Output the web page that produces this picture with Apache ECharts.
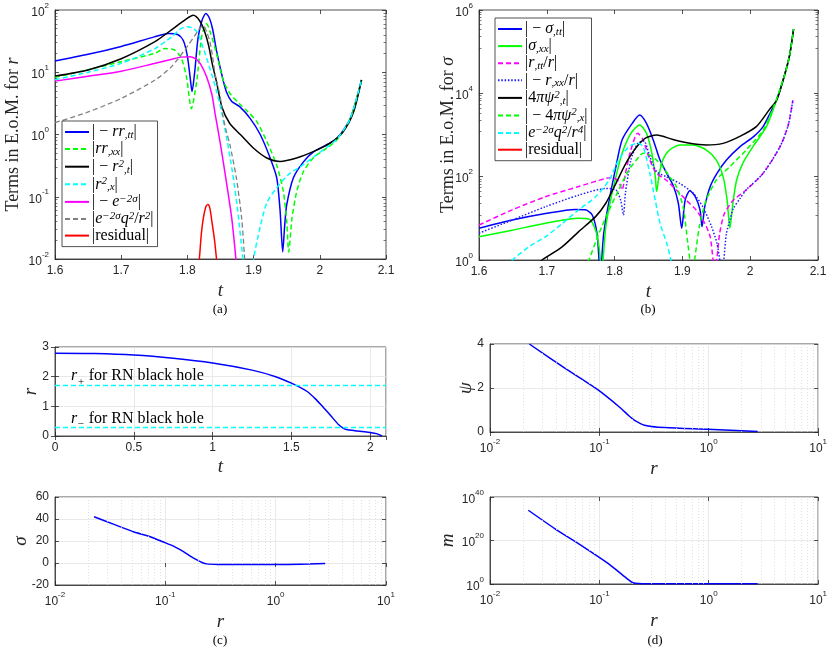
<!DOCTYPE html>
<html><head><meta charset="utf-8">
<script src="https://cdn.jsdelivr.net/npm/echarts@6/dist/echarts.min.js"></script>
<style>html,body{margin:0;padding:0;background:#fff}#c{width:830px;height:652px}</style>
</head><body><div id="c"></div><script>
// ---------- Panel (a): terms in E.o.M. for r (t, |value|) ----------
const a_rrtt = [[1.6,15.2],[1.65,19.4],[1.7,26],[1.75,37],[1.771,42],[1.786,40],[1.794,32],[1.8,18],[1.804,8.5],[1.807,4.9],[1.811,10],[1.816,35],[1.822,68],[1.828,88],[1.833,75],[1.838,50],[1.844,22],[1.852,9.1],[1.859,4.8],[1.867,3.4],[1.879,2.8],[1.895,1.8],[1.91,1.0],[1.925,0.42],[1.935,0.2],[1.94,0.06],[1.944,0.013],[1.947,0.035],[1.95,0.074],[1.96,0.2],[1.975,0.36],[1.99,0.52],[2.01,0.68],[2.026,0.87],[2.046,1.8],[2.063,7.5]];
const a_rrxx = [[1.6,8.3],[1.65,11],[1.7,14.8],[1.75,20],[1.766,24],[1.78,23],[1.791,16.7],[1.799,7.9],[1.806,2.6],[1.814,7.1],[1.822,40],[1.829,60],[1.834,46],[1.844,20],[1.854,7.5],[1.864,4.6],[1.879,3.1],[1.89,2.4],[1.905,1.6],[1.92,0.77],[1.935,0.32],[1.945,0.12],[1.95,0.04],[1.953,0.013],[1.958,0.045],[1.965,0.12],[1.975,0.25],[1.99,0.42],[2.01,0.6],[2.026,0.82],[2.046,1.8],[2.063,7.5]];
const a_rt2 = [[1.6,8.7],[1.65,10.9],[1.7,16.5],[1.751,31],[1.776,48],[1.796,69],[1.809,82],[1.819,66],[1.826,45],[1.832,27],[1.838,13],[1.844,7],[1.852,2.8],[1.864,1.5],[1.88,1.0],[1.9,0.6],[1.92,0.42],[1.94,0.37],[1.965,0.42],[1.99,0.53],[2.015,0.72],[2.035,1.1],[2.051,2.3],[2.063,7.5]];
const a_rx2 = [[1.6,7.6],[1.65,10],[1.7,13.9],[1.751,24],[1.776,37],[1.79,50],[1.8,54],[1.81,50],[1.817,40],[1.822,28],[1.829,17],[1.837,9],[1.844,5],[1.852,2.2],[1.86,0.8],[1.868,0.25],[1.876,0.06],[1.883,0.012],[1.886,0.005],[1.893,0.002],[1.9,0.01],[1.91,0.033],[1.92,0.08],[1.935,0.14],[1.955,0.24],[1.97,0.3],[1.99,0.43],[2.01,0.62],[2.026,0.85],[2.046,1.8],[2.063,7.5]];
const a_e2s = [[1.6,7.2],[1.65,8.6],[1.7,10.4],[1.75,13.8],[1.775,16],[1.79,17.5],[1.804,17.8],[1.812,16.5],[1.819,14],[1.829,8.5],[1.837,4.4],[1.842,2.1],[1.849,0.8],[1.859,0.17],[1.867,0.045],[1.872,0.014],[1.875,0.006]];
const a_q2r2 = [[1.6,1.55],[1.65,2.3],[1.7,3.8],[1.751,7.5],[1.776,12.3],[1.801,27],[1.812,40],[1.818,50],[1.824,56],[1.829,45],[1.834,31],[1.838,18],[1.842,9.1],[1.849,4.4],[1.854,1.9],[1.859,1.1],[1.864,0.7],[1.874,0.2],[1.882,0.045],[1.886,0.012],[1.889,0.004]];
const a_resid = [[1.815,0.006],[1.818,0.01],[1.821,0.025],[1.824,0.045],[1.828,0.07],[1.831,0.075],[1.834,0.065],[1.837,0.04],[1.841,0.02],[1.844,0.01],[1.847,0.005]];
// ---------- Panel (b): terms in E.o.M. for sigma ----------
const b_stt = [[1.6,5.8],[1.649,9.1],[1.698,13],[1.742,16.4],[1.757,16],[1.767,12],[1.774,4.4],[1.777,1.0],[1.779,0.3],[1.781,1.0],[1.784,4.4],[1.792,27],[1.802,174],[1.811,760],[1.826,1900],[1.837,3000],[1.847,1900],[1.857,760],[1.867,250],[1.877,120],[1.887,58],[1.894,23],[1.899,5.8],[1.904,27],[1.911,46],[1.919,33],[1.926,16],[1.929,6.3],[1.933,19],[1.941,58],[1.951,120],[1.965,250],[1.985,525],[2.005,912],[2.019,1585],[2.03,3500],[2.039,6900],[2.05,25000],[2.058,80000],[2.064,350000]];
const b_sxx = [[1.6,3.6],[1.649,5.2],[1.698,7.6],[1.747,10],[1.762,9.6],[1.772,5.2],[1.777,2.1],[1.779,1.0],[1.781,0.4],[1.783,1.0],[1.787,6.3],[1.794,27],[1.802,100],[1.811,363],[1.824,1100],[1.837,1740],[1.847,1100],[1.855,363],[1.86,100],[1.862,44],[1.866,120],[1.871,250],[1.881,437],[1.896,575],[1.916,575],[1.935,437],[1.95,250],[1.96,100],[1.966,27],[1.97,5.8],[1.975,27],[1.98,83],[1.989,209],[2.004,525],[2.024,1585],[2.038,6300],[2.05,25000],[2.058,80000],[2.064,350000]];
const b_rtt = [[1.6,6.9],[1.649,16],[1.698,33],[1.747,58],[1.787,91],[1.797,95],[1.806,76],[1.811,48],[1.816,120],[1.824,437],[1.834,1100],[1.842,760],[1.852,250],[1.862,120],[1.876,83],[1.891,48],[1.906,27],[1.92,16],[1.933,7.6],[1.941,3.6],[1.945,1.1],[1.948,0.5],[1.951,1.1],[1.955,4.4],[1.962,13],[1.975,27],[1.994,48],[2.019,120],[2.044,525],[2.056,1700],[2.063,6900]];
const b_rxx = [[1.6,4.4],[1.649,9.1],[1.698,19],[1.747,36],[1.787,52],[1.802,48],[1.809,27],[1.813,12],[1.816,40],[1.824,250],[1.834,630],[1.843,720],[1.852,300],[1.862,132],[1.876,100],[1.896,69],[1.916,40],[1.93,19],[1.943,6.3],[1.951,2.5],[1.956,0.8],[1.958,0.4],[1.961,1.0],[1.965,4.4],[1.97,9],[1.975,17],[1.985,30],[1.994,48],[2.019,120],[2.044,525],[2.056,1700],[2.063,6900]];
const b_psit = [[1.685,0.8],[1.693,1.0],[1.723,2.1],[1.747,4.8],[1.772,11],[1.787,23],[1.802,69],[1.816,200],[1.831,480],[1.846,850],[1.862,1000],[1.886,780],[1.911,630],[1.935,575],[1.96,630],[1.984,912],[2.009,1585],[2.028,4000],[2.039,6900],[2.05,25000],[2.058,80000],[2.064,350000]];
const b_psix = [[1.755,0.6],[1.762,1.0],[1.777,4.4],[1.792,16],[1.806,48],[1.821,145],[1.836,300],[1.842,363],[1.852,330],[1.862,250],[1.871,174],[1.881,100],[1.891,58],[1.901,19],[1.908,2.5],[1.911,1.0],[1.914,0.4],[1.918,1.0],[1.925,6.3],[1.935,27],[1.95,83],[1.97,174],[1.994,437],[2.019,1300],[2.035,5000],[2.05,25000],[2.058,80000],[2.064,350000]];
const b_q2r4 = [[1.64,0.7],[1.649,1.0],[1.674,2.1],[1.698,3.6],[1.723,7.6],[1.747,16],[1.772,33],[1.792,83],[1.806,250],[1.821,525],[1.834,630],[1.842,525],[1.852,120],[1.86,27],[1.867,7.6],[1.877,2.5],[1.883,1.0],[1.886,0.5]];
const b_resid = [];
// ---------- Panel (c): r(t) and sigma(r) ----------
const c_rt = [[0,2.79],[0.25,2.78],[0.5,2.73],[0.75,2.62],[1.0,2.46],[1.25,2.22],[1.4,2.0],[1.5,1.78],[1.6,1.5],[1.66,1.21],[1.7,0.98],[1.75,0.68],[1.8,0.38],[1.83,0.26],[1.85,0.22],[1.9,0.18],[1.95,0.15],[2.0,0.12],[2.04,0.08],[2.074,0.0]];
const rPlus = 1.71, rMinus = 0.29;
const c_sigma = [[0.0226,42],[0.0338,35.3],[0.0514,28.4],[0.0729,23.9],[0.0995,18.5],[0.123,14.5],[0.146,10.4],[0.17,6],[0.193,2.9],[0.215,0.5],[0.238,-0.8],[0.3,-1.3],[0.415,-1.4],[0.7,-1.4],[1.18,-1.4],[2.0,-1.0],[2.81,-0.5]];
// ---------- Panel (d): psi(r) and m(r) ----------
const d_psi = [[0.0229,4.0],[0.0483,2.9],[0.0973,1.91],[0.158,1.07],[0.185,0.75],[0.21,0.53],[0.259,0.31],[0.394,0.2],[0.98,0.12],[2.8,0.02]];
const d_m = [[0.0224,8e33],[0.039,3.2e25],[0.0686,5e17],[0.12,3.2e9],[0.17,2500],[0.203,4],[0.278,1.4],[1.0,1.3],[2.8,1.2]];
const minorR = [0.02,0.03,0.04,0.05,0.06,0.07,0.08,0.09,0.2,0.3,0.4,0.5,0.6,0.7,0.8,0.9,2,3,4,5,6,7,8,9];

const SANS = '"Liberation Sans", Arial, Helvetica, sans-serif';
const SERIF = '"Liberation Serif","DejaVu Serif","Times New Roman",serif';
const AX = '#262626';

function richSet(fs, color, lh) {
  const sf = Math.round(fs * 0.68);
  const L = lh || fs + 6;
  return {
    n: {fontFamily: SERIF, fontSize: fs, lineHeight: L, color: color},
    i: {fontFamily: SERIF, fontSize: fs, fontStyle: 'italic', lineHeight: L, color: color},
    s: {fontFamily: SERIF, fontSize: sf, fontStyle: 'italic', lineHeight: sf + 2, verticalAlign: 'bottom', color: color},
    p: {fontFamily: SERIF, fontSize: sf, fontStyle: 'italic', lineHeight: sf + 2, verticalAlign: 'top', color: color}
  };
}
const LAB = {
  a1: '{n||}{n| − }{i|rr}{s|,tt}{n||}',
  a2: '{n||}{i|rr}{s|,xx}{n||}',
  a3: '{n||}{n| − }{i|r}{p|2}{s|,t}{n||}',
  a4: '{n||}{i|r}{p|2}{s|,x}{n||}',
  a5: '{n||}{n| − }{i|e}{p|−2σ}{n||}',
  a6: '{n||}{i|e}{p|−2σ}{i|q}{p|2}{n|/}{i|r}{p|2}{n||}',
  a7: '{n||residual|}',
  b1: '{n||}{n| − }{i|σ}{s|,tt}{n||}',
  b2: '{n||}{i|σ}{s|,xx}{n||}',
  b3: '{n||}{i|r}{s|,tt}{n|/}{i|r}{n||}',
  b4: '{n||}{n| − }{i|r}{s|,xx}{n|/}{i|r}{n||}',
  b5: '{n||4}{i|πψ}{p|2}{s|,t}{n||}',
  b6: '{n||}{n| − 4}{i|πψ}{p|2}{s|,x}{n||}',
  b7: '{n||}{i|e}{p|−2σ}{i|q}{p|2}{n|/}{i|r}{p|4}{n||}',
  b8: '{n||residual|}'
};

const DASH = [5, 3], DOT = [1.5, 1.8];
function ln(name, data, idx, color, type, width, extra) {
  return Object.assign({
    name: name, type: 'line', xAxisIndex: idx, yAxisIndex: idx, data: data,
    symbol: 'none', showSymbol: false, smooth: 0.25, clip: true,
    lineStyle: {color: color, width: width || 1.5, type: type || 'solid'},
    itemStyle: {color: color}, emphasis: {disabled: true}
  }, extra || {});
}
const minorLines = {
  symbol: 'none', silent: true, animation: false, label: {show: false},
  lineStyle: {color: '#d9d9d9', type: [1, 2], width: 0.8},
  data: minorR.map(v => ({xAxis: v}))
};

const logLabel = {
  color: AX, fontFamily: SANS, fontSize: 12, margin: 6,
  formatter: v => '{b|10}{e|' + Math.round(Math.log10(v)) + '}',
  rich: {
    b: {fontFamily: SANS, fontSize: 12, color: AX, lineHeight: 17, verticalAlign: 'bottom'},
    e: {fontFamily: SANS, fontSize: 8, color: AX, lineHeight: 9, verticalAlign: 'top'}
  }
};
const numLabel = {color: AX, fontFamily: SANS, fontSize: 12, margin: 6};
const base = {
  axisLine: {show: true, onZero: false, lineStyle: {color: AX, width: 0.8}},
  axisTick: {show: true, inside: true, length: 4, lineStyle: {color: AX, width: 0.8}},
  splitLine: {show: false},
  nameLocation: 'middle',
  nameMoveOverlap: false
};
const gridLine = {show: true, lineStyle: {color: '#e3e3e3', width: 0.8}};
const logMinor = {show: true, splitNumber: 9, length: 2.5, lineStyle: {color: AX, width: 0.6}};
function ax(o) { return Object.assign({}, base, o); }
const nameRich = (fs) => ({rich: richSet(fs, AX)});

const grids = [
  {left: 55, top: 10, width: 331, height: 249},
  {left: 479, top: 10, width: 339, height: 250},
  {left: 55, top: 347, width: 331, height: 89},
  {left: 55, top: 497, width: 331, height: 88},
  {left: 490, top: 344, width: 329, height: 88},
  {left: 490, top: 497, width: 329, height: 87}
].map(g => Object.assign({show: true, borderColor: AX, borderWidth: 0.8, backgroundColor: '#fff'}, g));

const tFmt = v => String(+v.toFixed(1));
const xMain = [
  {gridIndex: 0, type: 'value', min: 1.6, max: 2.1, interval: 0.1, axisLabel: Object.assign({formatter: tFmt}, numLabel), name: '{i|t}', nameGap: 19, nameTextStyle: nameRich(19)},
  {gridIndex: 1, type: 'value', min: 1.6, max: 2.1, interval: 0.1, axisLabel: Object.assign({formatter: tFmt}, numLabel), name: '{i|t}', nameGap: 19, nameTextStyle: nameRich(19)},
  {gridIndex: 2, type: 'value', min: 0, max: 2.1, interval: 0.5, axisLabel: Object.assign({formatter: tFmt, showMaxLabel: false}, numLabel), splitLine: gridLine, name: '{i|t}', nameGap: 18, nameTextStyle: nameRich(19)},
  {gridIndex: 3, type: 'log', min: 0.01, max: 10, logBase: 10, interval: 1, axisLabel: logLabel, splitLine: gridLine, name: '{i|r}', nameGap: 24, nameTextStyle: nameRich(19)},
  {gridIndex: 4, type: 'log', min: 0.01, max: 10, logBase: 10, interval: 1, axisLabel: logLabel, splitLine: gridLine, name: '{i|r}', nameGap: 24, nameTextStyle: nameRich(19)},
  {gridIndex: 5, type: 'log', min: 0.01, max: 10, logBase: 10, interval: 1, axisLabel: logLabel, splitLine: gridLine, name: '{i|r}', nameGap: 24, nameTextStyle: nameRich(19)}
];
const yMain = [
  {gridIndex: 0, type: 'log', min: 0.01, max: 100, logBase: 10, interval: 1, axisLabel: logLabel, minorTick: logMinor, name: '{n|Terms in E.o.M. for }{i|r}', nameGap: 30, nameTextStyle: nameRich(18)},
  {gridIndex: 1, type: 'log', min: 1, max: 1e6, logBase: 10, interval: 2, axisLabel: logLabel, minorTick: logMinor, name: '{n|Terms in E.o.M. for }{i|σ}', nameGap: 19, nameTextStyle: nameRich(18)},
  {gridIndex: 2, type: 'value', min: 0, max: 3, interval: 1, axisLabel: numLabel, splitLine: gridLine, name: '{i|r}', nameGap: 12, nameTextStyle: nameRich(19)},
  {gridIndex: 3, type: 'value', min: -20, max: 60, interval: 20, axisLabel: numLabel, splitLine: gridLine, name: '{i|σ}', nameGap: 22, nameTextStyle: nameRich(19)},
  {gridIndex: 4, type: 'value', min: 0, max: 4, interval: 2, axisLabel: numLabel, splitLine: gridLine, name: '{i|ψ}', nameGap: 12, nameTextStyle: nameRich(19)},
  {gridIndex: 5, type: 'log', min: 1, max: 1e40, logBase: 10, interval: 20, axisLabel: logLabel, splitLine: gridLine, name: '{i|m}', nameGap: 30, nameTextStyle: nameRich(19)}
];
// mirrored tick-only axes (top / right) for the boxed look
const mirror = (o, pos) => Object.assign({}, o, {position: pos, name: '', axisLabel: {show: false}, splitLine: {show: false}, axisLine: {show: false}});
const xAxis = xMain.map(o => ax(o)).concat(xMain.map(o => ax(mirror(o, 'top'))));
const yAxis = yMain.map(o => ax(o)).concat(yMain.map(o => ax(mirror(o, 'right'))));

const hl = (txt) => ({show: true, position: 'insideStartTop', distance: [16, -2], formatter: txt, rich: richSet(16, '#000')});
const series = [
  ln('a1', a_rrtt, 0, '#0000ff'),
  ln('a2', a_rrxx, 0, '#00ff00', DASH),
  ln('a3', a_rt2, 0, '#000000'),
  ln('a4', a_rx2, 0, '#00ffff', DASH),
  ln('a5', a_e2s, 0, '#ff00ff'),
  ln('a6', a_q2r2, 0, '#808080', DASH, 1.3),
  ln('a7', a_resid, 0, '#ff0000'),
  ln('b1', b_stt, 1, '#0000ff'),
  ln('b2', b_sxx, 1, '#00ff00'),
  ln('b3', b_rtt, 1, '#ff00ff', DASH),
  ln('b4', b_rxx, 1, '#2020ff', DOT),
  ln('b5', b_psit, 1, '#000000'),
  ln('b6', b_psix, 1, '#00ff00', DASH),
  ln('b7', b_q2r4, 1, '#00ffff', DASH),
  ln('b8', b_resid, 1, '#ff0000'),
  ln('c_rt', c_rt, 2, '#0000ff', 'solid', 1.5, {markLine: {
    symbol: 'none', silent: true, animation: false,
    lineStyle: {color: '#00ffff', type: DASH, width: 1.3},
    data: [
      {yAxis: rPlus, label: hl('{i|r}{s|+}{n| for RN black hole}')},
      {yAxis: rMinus, label: hl('{i|r}{s|−}{n| for RN black hole}')}
    ]}}),
  ln('c_sigma', c_sigma, 3, '#0000ff', 'solid', 1.5, {markLine: minorLines}),
  ln('d_psi', d_psi, 4, '#0000ff', 'solid', 1.5, {markLine: minorLines}),
  ln('d_m', d_m, 5, '#0000ff', 'solid', 1.5, {markLine: minorLines})
];

const legendBase = {
  orient: 'vertical', itemWidth: 24, itemHeight: 10, itemGap: 0.6, selectedMode: false,
  borderColor: AX, borderWidth: 0.8, backgroundColor: '#fff', borderRadius: 0,
  padding: [3, 4, 3, 2], formatter: n => LAB[n],
  itemStyle: {opacity: 0, borderWidth: 0},
  textStyle: {fontFamily: SERIF, fontSize: 16, color: '#000', padding: [0, 0, 0, -2], rich: richSet(16, '#000', 17)}
};
const legend = [
  Object.assign({}, legendBase, {left: 62, top: 121, data: ['a1','a2','a3','a4','a5','a6','a7']}),
  Object.assign({}, legendBase, {left: 495, top: 18, data: ['b1','b2','b3','b4','b5','b6','b7','b8']})
];

const cap = (x, y, t) => ({type: 'text', x: x, y: y, silent: true,
  style: {text: t, font: '13px ' + SERIF, fill: '#000', align: 'center', verticalAlign: 'middle', textAlign: 'center', textVerticalAlign: 'middle'}});

const chart = echarts.init(document.getElementById('c'), null, {renderer: 'canvas'});
chart.setOption({
  animation: false,
  backgroundColor: '#fff',
  grid: grids, xAxis: xAxis, yAxis: yAxis, legend: legend, series: series,
  graphic: [cap(220, 310, '(a)'), cap(648, 310, '(b)'), cap(220, 641, '(c)'), cap(655, 641, '(d)')]
});
</script></body></html>
